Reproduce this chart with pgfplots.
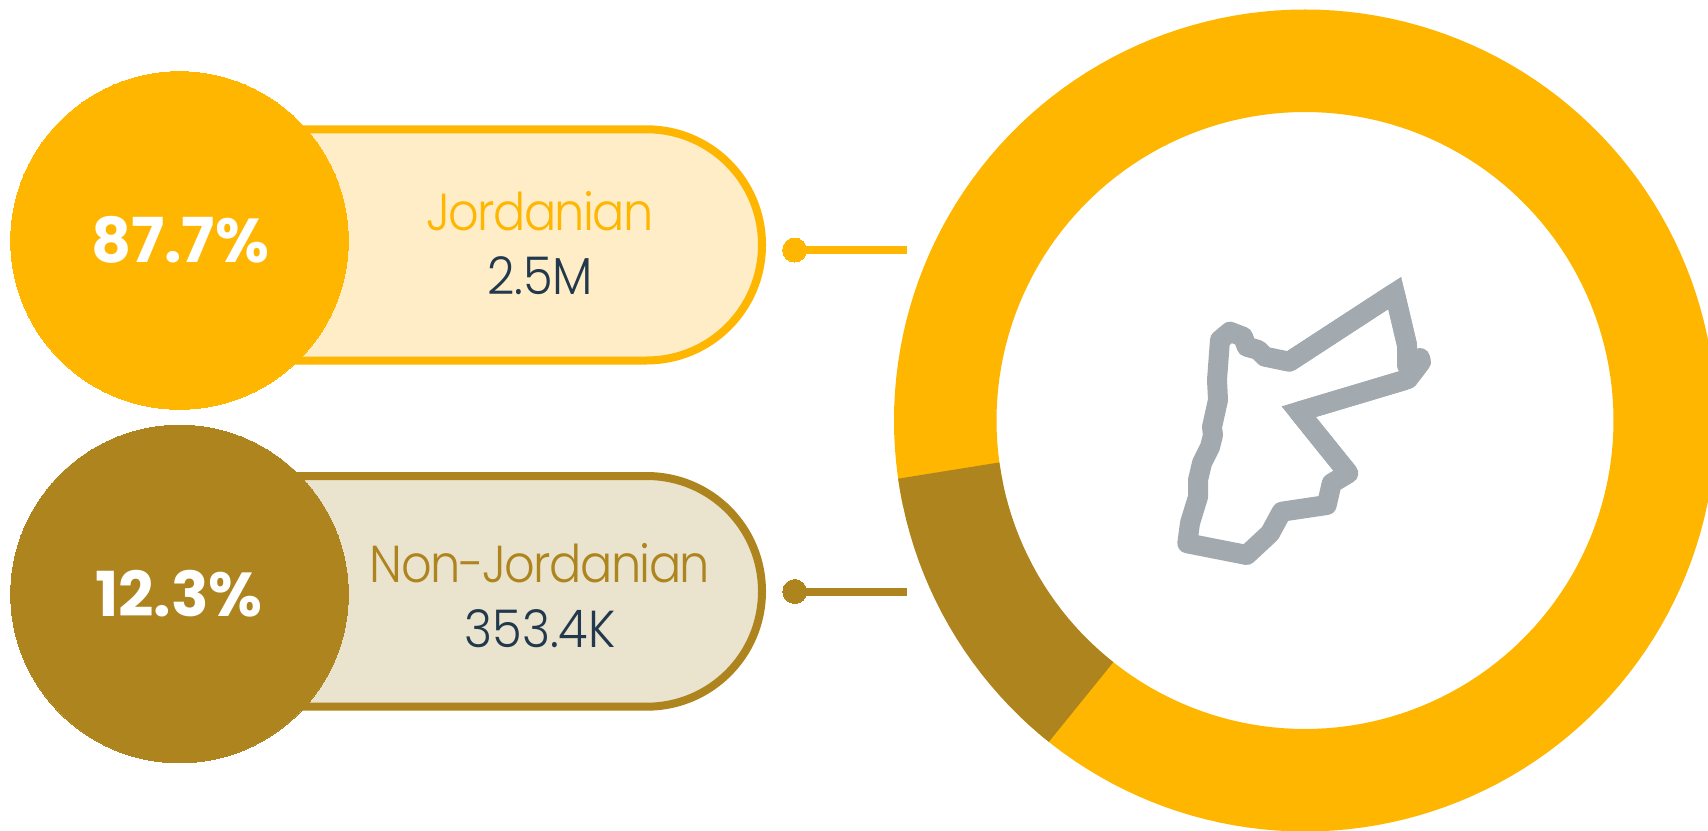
\documentclass[border=0pt]{standalone}
\usepackage{fontspec}
\setmainfont{Poppins}
\newfontfamily\lightfont[FakeStretch=0.92,LetterSpace=-3]{Poppins Light}
\newfontfamily\numfont[FakeStretch=0.92]{Poppins Light}
\newfontfamily\heavyfont{Poppins Bold}
\usepackage{pgfplots}
\pgfplotsset{compat=1.18}
\usepgfplotslibrary{polar}
\definecolor{jgold}{HTML}{FFB600}
\definecolor{jbrown}{HTML}{AE841E}
\definecolor{jpale}{HTML}{FEEDC6}
\definecolor{jtan}{HTML}{EAE3CD}
\definecolor{jnavy}{HTML}{22394D}
\definecolor{jgrey}{HTML}{A3AAAF}
\pgfplotsset{pix/.style={
  at={(0,0)}, anchor=south west,
  scale only axis, width=854pt, height=415pt,
  xmin=0, xmax=1708, ymin=0, ymax=830, y dir=reverse,
  hide axis, clip=false}}
\begin{document}
\begin{tikzpicture}
\useasboundingbox (0,0) rectangle (854pt,415pt);
\clip (0,0) rectangle (854pt,415pt);
% donut, centre 1305,420.5 in image pixels, 1 px = 0.5pt
\begin{polaraxis}[
  at={(652.5pt,204.75pt)}, anchor=center,
  scale only axis, width=420pt, height=420pt,
  xmin=0, xmax=360, ymin=0, ymax=420,
  hide axis, clip=false,
]
% gold runs a little under the brown arc at both ends
\addplot[draw=jgold, line width=51.25pt, line cap=butt, mark=none] coordinates {
(226,359.75)(228,359.75)(230,359.75)(232,359.75)(234,359.75)(236,359.75)(238,359.75)(240,359.75)(242,359.75)(244,359.75)(246,359.75)(248,359.75)
(250,359.75)(252,359.75)(254,359.75)(256,359.75)(258,359.75)(260,359.75)(262,359.75)(264,359.75)(266,359.75)(268,359.75)
(270,359.75)(272,359.75)(274,359.75)(276,359.75)(278,359.75)(280,359.75)(282,359.75)(284,359.75)(286,359.75)(288,359.75)
(290,359.75)(292,359.75)(294,359.75)(296,359.75)(298,359.75)(300,359.75)(302,359.75)(304,359.75)(306,359.75)(308,359.75)
(310,359.75)(312,359.75)(314,359.75)(316,359.75)(318,359.75)(320,359.75)(322,359.75)(324,359.75)(326,359.75)(328,359.75)
(330,359.75)(332,359.75)(334,359.75)(336,359.75)(338,359.75)(340,359.75)(342,359.75)(344,359.75)(346,359.75)(348,359.75)
(350,359.75)(352,359.75)(354,359.75)(356,359.75)(358,359.75)(360,359.75)(362,359.75)(364,359.75)(366,359.75)(368,359.75)
(370,359.75)(372,359.75)(374,359.75)(376,359.75)(378,359.75)(380,359.75)(382,359.75)(384,359.75)(386,359.75)(388,359.75)
(390,359.75)(392,359.75)(394,359.75)(396,359.75)(398,359.75)(400,359.75)(402,359.75)(404,359.75)(406,359.75)(408,359.75)
(410,359.75)(412,359.75)(414,359.75)(416,359.75)(418,359.75)(420,359.75)(422,359.75)(424,359.75)(426,359.75)(428,359.75)
(430,359.75)(432,359.75)(434,359.75)(436,359.75)(438,359.75)(440,359.75)(442,359.75)(444,359.75)(446,359.75)(448,359.75)
(450,359.75)(452,359.75)(454,359.75)(456,359.75)(458,359.75)(460,359.75)(462,359.75)(464,359.75)(466,359.75)(468,359.75)
(470,359.75)(472,359.75)(474,359.75)(476,359.75)(478,359.75)(480,359.75)(482,359.75)(484,359.75)(486,359.75)(488,359.75)
(490,359.75)(492,359.75)(494,359.75)(496,359.75)(498,359.75)(500,359.75)(502,359.75)(504,359.75)(506,359.75)(508,359.75)
(510,359.75)(512,359.75)(514,359.75)(516,359.75)(518,359.75)(520,359.75)(522,359.75)(524,359.75)(526,359.75)(528,359.75)
(530,359.75)(532,359.75)(534,359.75)(536,359.75)(538,359.75)(540,359.75)(542,359.75)(544,359.75)(546,359.75)(548,359.75)(550,359.75)(552,359.75)
};
\addplot[draw=jbrown, line width=51.25pt, line cap=butt, mark=none] coordinates {
(188,359.75)(188.1,359.75)(190,359.75)(192,359.75)(194,359.75)(196,359.75)(198,359.75)(200,359.75)(202,359.75)(204,359.75)
(206,359.75)(208,359.75)(210,359.75)(212,359.75)(214,359.75)(216,359.75)(218,359.75)(220,359.75)(222,359.75)(224,359.75)
(226,359.75)(228,359.75)(230,359.75)(231.4,359.75)(231.5,359.75)
};
\end{polaraxis}
% everything else in image pixels
\begin{axis}[pix]
% pills
\addplot[draw=jgold, fill=jpale, line width=4pt, rounded corners=57.7pt] coordinates {
  (100,129.3)(762,129.3)(762,360.5)(100,360.5)(100,129.3)};
\addplot[draw=jbrown, fill=jtan, line width=4pt, rounded corners=57.6pt] coordinates {
  (100,476)(762,476)(762,706.7)(100,706.7)(100,476)};
% big circles
\addplot[only marks, mark=*, color=jgold, mark size=84.4pt, mark options={line width=0pt}] coordinates {(179.5,240.5)};
\addplot[only marks, mark=*, color=jbrown, mark size=84.4pt, mark options={line width=0pt}] coordinates {(179.5,594)};
% connectors
\addplot[draw=jgold, line width=4pt, mark=none] coordinates {(794.7,250)(907,250)};
\addplot[only marks, mark=*, color=jgold, mark size=6pt, mark options={line width=0pt}] coordinates {(794.7,250)};
\addplot[draw=jbrown, line width=4pt, mark=none] coordinates {(794.7,591.5)(907,591.5)};
\addplot[only marks, mark=*, color=jbrown, mark size=6pt, mark options={line width=0pt}] coordinates {(794.7,591.5)};
% jordan outline
\addplot[draw=jgrey, line width=10pt, line join=round, mark=none] coordinates {
(1394.7,293)(1407,345)(1407,365)(1420,358)(1421,362)(1408,379)(1298.7,411.7)
(1348.3,473.3)(1331.7,483.3)(1326.7,505)(1281.7,511.7)(1270,533.3)(1246.7,555)(1187.3,543.3)
(1190,523)(1198,497)(1198,480)(1202,463)(1210,447)(1213,435)
(1212,427)(1218,400)(1217,380)(1220,340)(1230,331.7)(1243,336.7)(1246.7,346.7)
(1258.3,350)(1265,356.7)(1289.3,361.7)(1394.7,293)};
\addplot[draw=jgrey, line width=10pt, line join=miter, mark=none] coordinates {
(1405,380)(1298.7,411.7)(1348.3,473.3)};
\addplot[draw=jgrey, line width=10pt, line join=miter, mark=none] coordinates {
(1289.3,361.7)(1394.7,293)(1407,345)};
\end{axis}
% labels last, so that they lie over the marks
\begin{axis}[pix]
\addplot[draw=none] coordinates {(0,0)(1708,830)};
\node[anchor=base, text=white, font=\heavyfont\fontsize{31}{31}\selectfont] at (axis cs:180,262.3) {87.7\%};
\node[anchor=base, text=white, font=\heavyfont\fontsize{31}{31}\selectfont] at (axis cs:179,616) {12.3\%};
\node[anchor=base, text=jgold, font=\lightfont\fontsize{26}{26}\selectfont] at (axis cs:540,230) {Jordanian};
\node[anchor=base, text=jnavy, font=\numfont\fontsize{26}{26}\selectfont] at (axis cs:540,294.3) {2.5M};
\node[anchor=base, text=jbrown, font=\lightfont\fontsize{26}{26}\selectfont] at (axis cs:540,582.7) {Non-Jordanian};
\node[anchor=base, text=jnavy, font=\numfont\fontsize{26}{26}\selectfont] at (axis cs:540,647.3) {353.4K};
\end{axis}
\end{tikzpicture}
\end{document}
